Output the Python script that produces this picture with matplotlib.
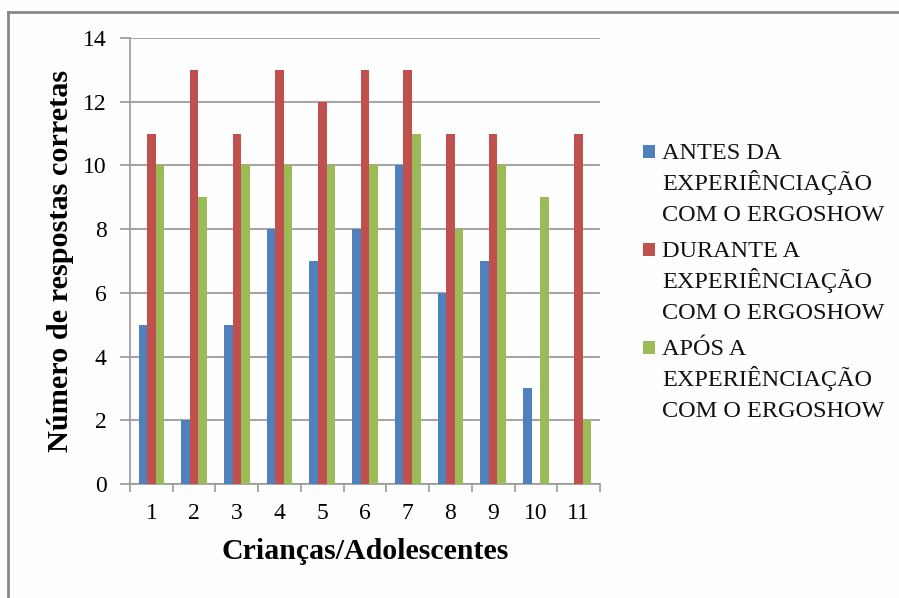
import numpy as np
import matplotlib.pyplot as plt
from matplotlib.patches import Rectangle

plt.rcParams['font.family'] = ['Liberation Serif', 'DejaVu Serif']

# respostas corretas por criança/adolescente
criancas = ['1', '2', '3', '4', '5', '6', '7', '8', '9', '10', '11']
antes = [5, 2, 5, 8, 7, 8, 10, 6, 7, 3, 0]
durante = [11, 13, 11, 13, 12, 13, 13, 11, 11, 0, 11]
apos = [10, 9, 10, 10, 10, 10, 11, 8, 10, 9, 2]

labels = [['ANTES DA', 'EXPERIÊNCIAÇÃO', 'COM O ERGOSHOW'],
          ['DURANTE A', 'EXPERIÊNCIAÇÃO', 'COM O ERGOSHOW'],
          ['APÓS A', 'EXPERIÊNCIAÇÃO', 'COM O ERGOSHOW']]
cores = ['#4F81BD', '#C0504D', '#9BBB59']

W, H = 899, 598
fig = plt.figure(figsize=(W / 100, H / 100), dpi=100)
fig.patch.set_facecolor('#FEFEFE')
ax = fig.add_axes([130 / W, 1 - 484 / H, 470 / W, 446 / H])
ax.set_facecolor('#FEFEFE')

# moldura do gráfico (só topo e esquerda aparecem)
fig.add_artist(plt.Line2D([8 / W, 8 / W], [0, 1 - 12 / H],
                          transform=fig.transFigure, color='#888888', lw=2))
fig.add_artist(plt.Line2D([8 / W, 1], [1 - 12 / H, 1 - 12 / H],
                          transform=fig.transFigure, color='#888888', lw=2))

x = np.arange(len(criancas))
w = 0.2
for i, (serie, cor) in enumerate(zip([antes, durante, apos], cores)):
    ax.bar(x + (i - 1) * w, serie, w, color=cor, zorder=3)

ax.set_xlim(-0.5, len(criancas) - 0.5)
ax.set_ylim(0, 14)
ax.set_yticks(range(0, 15, 2))
ax.set_xticks(x)
ax.set_xticklabels(criancas)
ax.set_xticks(np.arange(-0.5, len(criancas)), minor=True)
ax.tick_params(axis='x', which='major', length=0, pad=14, labelsize=17)
ax.tick_params(axis='x', which='minor', length=6, color='#999999', width=1.2)
ax.tick_params(axis='y', length=7, color='#999999', width=1.2, labelsize=17, pad=10)
ax.grid(axis='y', color='#A6A6A6', lw=1.5, zorder=0)
for s in ['top', 'right']:
    ax.spines[s].set_visible(False)
for s in ['left', 'bottom']:
    ax.spines[s].set_color('#999999')
    ax.spines[s].set_linewidth(1.2)

ax.set_xlabel('Crianças/Adolescentes', fontsize=21.5, fontweight='bold', labelpad=10)
ax.set_ylabel('Número de respostas corretas', fontsize=21.8, fontweight='bold', labelpad=6)

# legenda desenhada à mão: quadrado alinhado à primeira linha do texto
for k, (linhas, cor) in enumerate(zip(labels, cores)):
    base = 159 + k * 98
    fig.add_artist(Rectangle((643 / W, 1 - (base - 1) / H), 12 / W, 13 / H,
                             transform=fig.transFigure, facecolor=cor, edgecolor='none'))
    for j, txt in enumerate(linhas):
        fig.text(662 / W, 1 - (base + j * 31) / H, txt, fontsize=17.5,
                 va='baseline', ha='left', color='#111111')

fig.savefig('out.png', dpi=100, facecolor=fig.get_facecolor())
